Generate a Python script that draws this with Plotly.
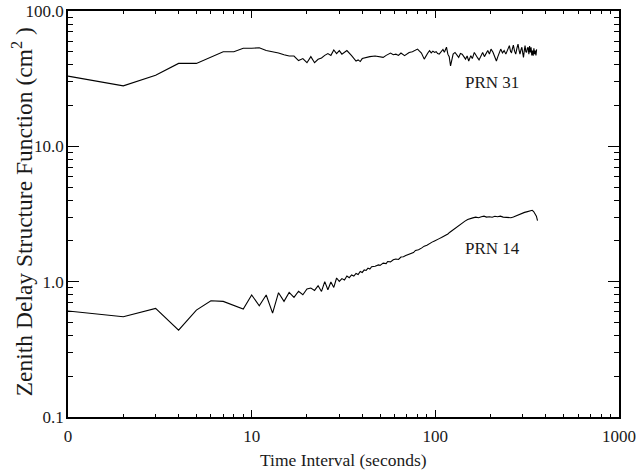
import math
import plotly.graph_objects as go

# PRN 31 (upper curve)
t31 = [1, 2, 3, 4, 5, 6, 7, 8, 9, 10, 11, 12, 13, 14, 15, 16, 17, 18, 19, 20,
       21, 22, 23, 24, 25, 26, 27, 28, 29, 30, 31, 32, 33, 35, 37, 38, 39, 40,
       42, 44, 47, 50, 52, 54, 57, 59, 61, 63, 65, 68, 70, 72, 75, 77, 80, 82,
       84, 87, 89, 91, 93, 95, 97, 99, 101, 103, 105, 108, 110, 112, 115, 117,
       119, 121, 123, 125, 128, 131, 134, 137, 140, 143, 146, 149, 152, 156,
       159, 163, 166, 170, 173, 177, 181, 185, 189, 193, 197, 201, 206, 210,
       215, 219, 223, 227, 232, 237, 242, 247, 253, 257, 260, 263, 266, 270,
       274, 278, 282, 286, 289, 293, 296, 299, 302, 305, 308, 311, 314, 317,
       320, 323, 326, 329, 332, 335, 338, 341, 344, 347, 350, 353, 356]
v31 = [33, 28, 33.5, 41, 41, 46, 50, 50, 53, 53, 53.5, 51, 50, 49, 47.5, 46.5,
       46.5, 43, 44.5, 41.5, 46, 41.5, 44, 45, 47, 48.5, 47, 51.5, 48.5, 51,
       48, 49.5, 51, 46.8, 42.7, 43.5, 42.3, 44.5, 45.5, 46, 46.5, 46, 45.4,
       47, 48.9, 47.5, 48, 47, 48.9, 46.8, 48.5, 49.4, 50, 51, 52.3, 50.5,
       48.9, 44.1, 47, 48.9, 51, 49, 50.5, 49.4, 50, 48.5, 48, 50.5, 52, 49.5,
       54, 48, 46, 39.3, 44, 48, 49.4, 47, 45.4, 48.5, 48, 46, 44.1, 46.5,
       42.7, 46.8, 44.5, 49.4, 47, 45, 43.5, 47, 49.4, 46, 49, 51, 48, 52.3,
       49.5, 46.8, 42.7, 46, 49.4, 52.3, 49, 51, 48, 51.5, 55.5, 50, 49.4, 53,
       56, 50.5, 48, 53, 57, 51, 48, 52, 54, 49, 45.4, 51, 55.5, 50, 49.4,
       53, 54, 48, 55, 49.4, 54, 47, 51, 46.8, 53, 48, 51, 47, 52, 48, 51]

# PRN 14 (lower curve)
t14 = [1, 2, 3, 4, 5, 6, 7, 8, 9, 10, 11, 12, 13, 14, 15, 16, 17, 18, 19, 20,
       21, 22, 23, 24, 25, 26, 27, 28, 29, 30, 31, 32, 33, 34, 35, 36, 37,
       38, 39, 40, 41, 42, 43, 44, 45, 47, 49, 50, 52, 54, 55, 57, 59, 61,
       63, 65, 67, 69, 71, 74, 76, 78, 81, 84, 87, 90, 93, 96, 99, 102, 105,
       108, 111, 114, 117, 120, 124, 128, 132, 136, 140, 145, 150, 155, 160,
       166, 172, 178, 184, 190, 197, 204, 211, 218, 226, 234, 242, 250, 258,
       266, 274, 282, 290, 298, 306, 314, 322, 330, 337, 343, 349, 355, 360]
v14 = [0.607, 0.55, 0.634, 0.438, 0.617, 0.723, 0.715, 0.67, 0.628, 0.797,
       0.664, 0.797, 0.586, 0.829, 0.715, 0.833, 0.765, 0.85, 0.80, 0.883,
       0.898, 0.862, 0.934, 0.847, 1.0, 0.872, 0.995, 0.907, 1.065, 1.005,
       1.053, 1.03, 1.10, 1.07, 1.12, 1.10, 1.15, 1.13, 1.19, 1.17, 1.22,
       1.21, 1.26, 1.24, 1.29, 1.30, 1.33, 1.32, 1.37, 1.36, 1.41, 1.40,
       1.45, 1.47, 1.46, 1.52, 1.53, 1.56, 1.58, 1.62, 1.64, 1.70, 1.72,
       1.77, 1.83, 1.86, 1.92, 1.96, 2.0, 2.03, 2.08, 2.12, 2.16, 2.2, 2.25,
       2.32, 2.40, 2.50, 2.57, 2.65, 2.72, 2.80, 2.88, 2.94, 2.96, 3.0, 2.97,
       3.02, 3.05, 3.0, 3.02, 2.99, 3.04, 3.02, 3.05, 3.0, 2.98, 2.95, 2.97,
       3.0, 3.06, 3.1, 3.15, 3.2, 3.25, 3.28, 3.32, 3.35, 3.37, 3.3, 3.2,
       3.05, 2.83]

x_tickvals = [1, 10, 100, 1000]
x_ticktext = ["0", "10", "100", "1000"]
y_tickvals = [0.1, 1, 10, 100]
y_ticktext = ["0.1", "1.0", "10.0", "100.0"]
x_minor = [m * d for d in (1, 10, 100) for m in range(2, 10)]
y_minor = [m * d for d in (0.1, 1, 10) for m in range(2, 10)]

labels = ["PRN 31", "PRN 14"]
label_x = [203, 205]
label_y = [29.8, 1.75]

FONT = "Liberation Serif"
TXT = "#1a1a1a"

fig = go.Figure()
fig.add_trace(go.Scatter(x=t31, y=v31, mode="lines",
                         line=dict(color="black", width=1.1), showlegend=False))
fig.add_trace(go.Scatter(x=t14, y=v14, mode="lines",
                         line=dict(color="black", width=1.1), showlegend=False))
# transparent copy on the mirrored (top/right) axes so they get drawn
fig.add_trace(go.Scatter(x=t14, y=v14, mode="lines", xaxis="x2", yaxis="y2",
                         line=dict(color="rgba(0,0,0,0)", width=1),
                         showlegend=False, hoverinfo="skip"))

for lab, lx, ly in zip(labels, label_x, label_y):
    fig.add_annotation(x=math.log10(lx), y=math.log10(ly), text=lab,
                       showarrow=False,
                       font=dict(family=FONT, size=17, color=TXT))

fig.add_annotation(text="Time Interval (seconds)", xref="paper", yref="paper",
                   x=0.5, y=-0.106, xanchor="center", yanchor="middle",
                   showarrow=False, font=dict(family=FONT, size=17.5, color=TXT))
fig.add_annotation(text="Zenith Delay Structure Function (cm<sup>2</sup> )",
                   xref="paper", yref="paper", x=-0.083, y=0.505,
                   xanchor="center", yanchor="middle", textangle=-90,
                   showarrow=False, font=dict(family=FONT, size=23.5, color=TXT))

base = dict(type="log", showgrid=False, zeroline=False, showline=True,
            linecolor="black", linewidth=1.5, ticks="inside",
            tickcolor="black", tickwidth=1, automargin=False,
            tickfont=dict(family=FONT, size=17, color=TXT))

xminor = dict(tickmode="array", tickvals=x_minor, ticks="inside",
              ticklen=3, tickcolor="black", tickwidth=1, showgrid=False)
yminor = dict(tickmode="array", tickvals=y_minor, ticks="inside",
              ticklen=5, tickcolor="black", tickwidth=1, showgrid=False)

fig.update_layout(
    width=636, height=472, plot_bgcolor="white", paper_bgcolor="white",
    margin=dict(l=68, r=17, t=11, b=55),
    xaxis=dict(**base, range=[0, 3], tickmode="array", tickvals=x_tickvals,
               ticktext=x_ticktext, ticklen=7, minor=xminor,
               ticklabelstandoff=3),
    yaxis=dict(**base, range=[-1, 2], tickmode="array", tickvals=y_tickvals,
               ticktext=y_ticktext, ticklen=11, minor=yminor,
               ticklabelstandoff=-1),
    xaxis2=dict(**base, range=[0, 3], overlaying="x", side="top",
                anchor="y2", tickmode="array", tickvals=x_tickvals,
                showticklabels=False, ticklen=7, minor=xminor),
    yaxis2=dict(**base, range=[-1, 2], overlaying="y", side="right",
                anchor="x2", tickmode="array", tickvals=y_tickvals,
                showticklabels=False, ticklen=11, minor=yminor),
)

fig.write_html("out.html", config={"displayModeBar": False},
               post_script="document.body.style.margin='0';"
                           "document.body.style.overflow='hidden';")
